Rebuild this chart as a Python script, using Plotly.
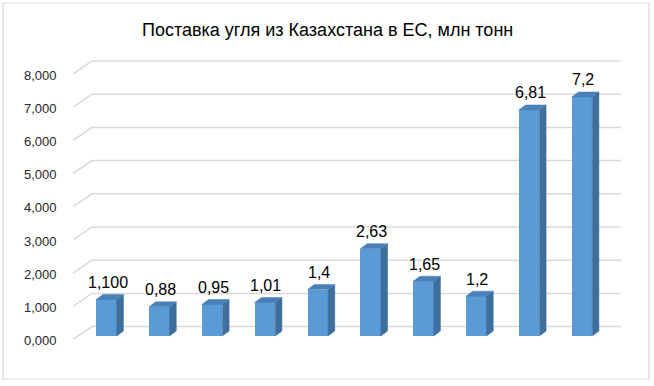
import plotly.graph_objects as go

# ---- data ----
years = ["2014", "2015", "2016", "2017", "2018", "2019", "2020", "2021", "2022", "2023"]
values = [1.1, 0.88, 0.95, 1.01, 1.4, 2.63, 1.65, 1.2, 6.81, 7.2]
value_labels = ["1,100", "0,88", "0,95", "1,01", "1,4", "2,63", "1,65", "1,2", "6,81", "7,2"]
y_ticks = [0, 1, 2, 3, 4, 5, 6, 7, 8]
y_tick_labels = ["0,000", "1,000", "2,000", "3,000", "4,000", "5,000", "6,000", "7,000", "8,000"]
title = "Поставка угля из Казахстана в ЕС, млн тонн"

# ---- geometry (pixels -> data units) ----
W, H = 654, 386
plot_l, plot_r, plot_t, plot_b = 73, 621, 55, 345
x0_px, sx = 106.5, 52.83          # px of first category, px per category
y0_px, sy = 336.0, 33.2           # px of value 0 (front plane), px per unit
x_range = [(plot_l - x0_px) / sx, (plot_r - x0_px) / sx]
y_range = [(y0_px - plot_b) / sy, (y0_px - plot_t) / sy]

bar_w = 20.5 / sx
dx = 6.7 / sx
dy = 5.0 / sy

front_col = "#5B9BD5"
side_col = "#3E6E9C"
top_col = "#4A80B8"
grid_col = "#D9D9D9"
text_col = "#262626"

xs = list(range(len(years)))
fig = go.Figure()

fig.add_trace(go.Bar(x=xs, y=values, width=bar_w, marker=dict(color=front_col, line=dict(width=0)),
                     hoverinfo="skip", showlegend=False))

for x, v in zip(xs, values):
    xr = x + bar_w / 2
    xl = x - bar_w / 2
    # side face
    fig.add_trace(go.Scatter(x=[xr, xr, xr + dx, xr + dx, xr], y=[0, v, v + dy, dy, 0],
                             fill="toself", fillcolor=side_col, mode="lines",
                             line=dict(width=0.5, color=side_col), hoverinfo="skip", showlegend=False))
    # top face
    fig.add_trace(go.Scatter(x=[xl, xr, xr + dx, xl + dx, xl], y=[v, v, v + dy, v + dy, v],
                             fill="toself", fillcolor=top_col, mode="lines",
                             line=dict(width=0.5, color=top_col), hoverinfo="skip", showlegend=False))

shapes = []
# gridlines on back wall with left-wall diagonal
gx_l = x_range[0]
gx_k = x_range[0] + 19 / sx
gx_r = x_range[1]
for v in y_ticks:
    yf = v - 3.5 / sy
    yb = v + 9.4 / sy
    shapes.append(dict(type="path", xref="x", yref="y", layer="below",
                       path=f"M {gx_l} {yf} L {gx_k} {yb} L {gx_r} {yb}",
                       line=dict(color=grid_col, width=1.5)))
# outer border
pw, ph = plot_r - plot_l, plot_b - plot_t
shapes.append(dict(type="rect", xref="paper", yref="paper", layer="below",
                   x0=(3 - plot_l) / pw, x1=(649 - plot_l) / pw,
                   y0=(plot_b - 379) / ph, y1=(plot_b - 3) / ph,
                   line=dict(color="#D9D9D9", width=1.2)))

annotations = []
for v, lab in zip(y_ticks, y_tick_labels):
    annotations.append(dict(xref="paper", yref="y", x=(58.5 - plot_l) / pw, y=v - 0.14, text=lab,
                            xanchor="right", yanchor="middle", showarrow=False,
                            font=dict(family="Liberation Sans, Arial", size=13, color=text_col)))
for x, yr in zip(xs, years):
    annotations.append(dict(xref="x", yref="y", x=x - 6.5 / sx, y=-22 / sy, text=yr,
                            xanchor="center", yanchor="middle", showarrow=False,
                            font=dict(family="Liberation Sans, Arial", size=12.5, color=text_col)))
for x, v, lab in zip(xs, values, value_labels):
    annotations.append(dict(xref="x", yref="y", x=x + 1 / sx, y=v + dy, text=lab,
                            xanchor="center", yanchor="middle", yshift=12, showarrow=False,
                            font=dict(family="Liberation Sans, Arial", size=16, color="#000000")))
annotations.append(dict(xref="paper", yref="paper", x=(327 - plot_l) / pw, y=(plot_b - 30) / ph,
                        text=title, xanchor="center", yanchor="middle", showarrow=False,
                        font=dict(family="Liberation Sans, Arial", size=18, color="#000000")))

fig.update_layout(
    width=W, height=H,
    margin=dict(l=plot_l, r=W - plot_r, t=plot_t, b=H - plot_b),
    paper_bgcolor="white", plot_bgcolor="white",
    xaxis=dict(range=x_range, visible=False, fixedrange=True),
    yaxis=dict(range=y_range, visible=False, fixedrange=True),
    shapes=shapes, annotations=annotations, bargap=0,
)

fig.write_html("out.html")
